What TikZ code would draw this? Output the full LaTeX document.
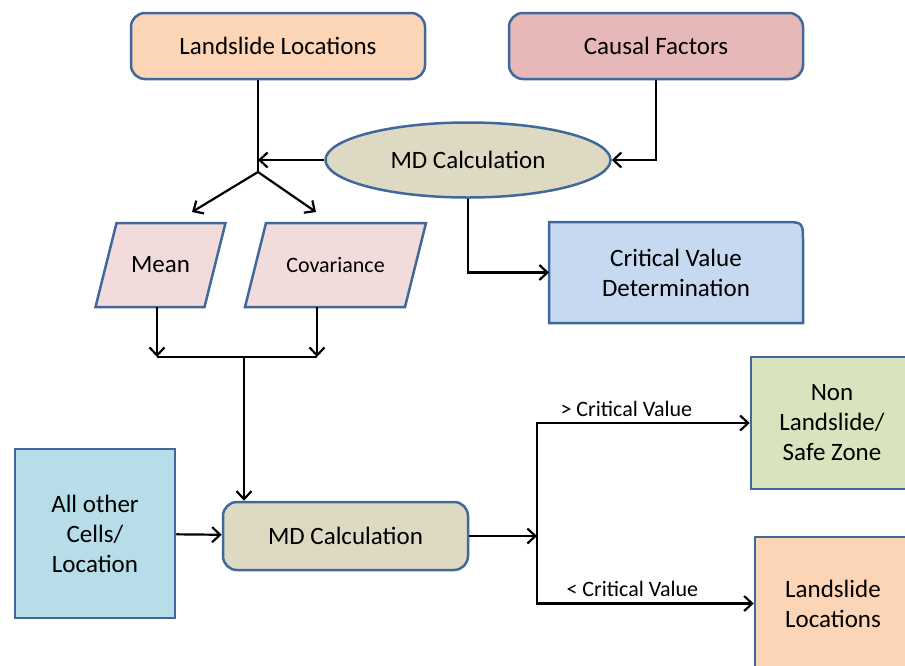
\documentclass[tikz,border=0pt]{standalone}
\usepackage{fontspec}
\setmainfont{Carlito}
\usetikzlibrary{arrows.meta,backgrounds,shapes.geometric}
\definecolor{edge}{HTML}{41689A}
\definecolor{peach}{HTML}{FBD5B5}
\definecolor{causal}{HTML}{E6B9B8}
\definecolor{tan}{HTML}{DDD9C3}
\definecolor{skyblue}{HTML}{C6D9F1}
\definecolor{pinkio}{HTML}{F2DCDB}
\definecolor{cellblue}{HTML}{B7DEE8}
\definecolor{safegreen}{HTML}{D7E4BD}

\begin{document}
\begin{tikzpicture}[->,>={Straight Barb[length=8pt,width=15pt]},x=1pt,y=-1pt,
		font=\fontsize{25}{30}\selectfont]
		\tikzstyle{box}=[draw=edge,line width=2.5pt,align=center,inner sep=0pt]
		\tikzstyle{rbox}=[box,rectangle,rounded corners=14pt]
		\tikzstyle{io}=[box,draw=none,outer sep=0pt,minimum height=84]
		\tikzstyle{lbl}=[font=\fontsize{22}{26}\selectfont,above=2pt]
		
		\useasboundingbox (0,0) rectangle (905,665);
		\clip (0,0) rectangle (905,665);
		
		\node[rbox,fill=peach,minimum width=294,minimum height=66] (ll) at (278,46) {Landslide Locations};
		\node[rbox,fill=causal,minimum width=294,minimum height=66] (cf) at (656,46) {Causal Factors};
		\node[box,ellipse,fill=tan,minimum width=285,minimum height=75] (md1) at (468,160) {MD Calculation};
		\node[box,draw=none,outer sep=0pt,minimum width=254,minimum height=101] (cv) at (676,272.5) {Critical Value\\Determination};
		\node[io,minimum width=109] (mean) at (160.5,265) {Mean};
		\node[io,minimum width=160,font=\fontsize{22}{26}\selectfont] (cov) at (335.5,265) {Covariance};
		\begin{pgfonlayer}{background}
			\filldraw[-,draw=edge,fill=skyblue,line width=2.5pt] (cv.south west) -- (cv.north west)
			-- ([xshift=-20pt]cv.north east) .. controls (cv.north east) .. ([yshift=-20pt]cv.north east)
			-- (cv.south east) -- cycle;
			% slanted input boxes
			\foreach \n in {mean,cov}
			\filldraw[-,draw=edge,fill=pinkio,line width=2.5pt] ([xshift=-10.5pt]\n.south west)
			-- ([xshift=10.5pt]\n.north west) -- ([xshift=10.5pt]\n.north east)
			-- ([xshift=-10.5pt]\n.south east) -- cycle;
		\end{pgfonlayer}
		\node[box,fill=cellblue,minimum width=160,minimum height=169] (cells) at (95,533.5) {All other\\Cells/\\Location};
		\node[rbox,fill=tan,minimum width=245,minimum height=68] (md2) at (345.5,536) {MD Calculation};
		\node[box,fill=safegreen,minimum width=162,minimum height=132] (safe) at (832,423) {Non\\Landslide/\\Safe Zone};
		\node[box,fill=peach,minimum width=156,minimum height=133] (lsb) at (833,603.5) {Landslide\\Locations};
		
		\coordinate (join) at (258,160);
		\coordinate (split) at (258,172);
		\coordinate (meanin) at (192,212);
		\coordinate (covin) at (316,212);
		\coordinate (mj) at (157,357);
		\coordinate (cj) at (317,357);
		\coordinate (mid) at (244,357);
		\coordinate (fork) at (537,536);
		
		\begin{scope}[line width=2.2pt]
		\draw[-] (ll.south -| split) -- (split);
		\draw (md1) -- (join);
		\draw (split) -- (meanin);
		\draw (split) -- (covin);
		\draw (cf.south) |- (md1.east);
		\draw (md1.south) |- (cv.west);
		\draw (mean.south -| mj) -- (mj);
		\draw (cov.south -| cj) -- (cj);
		\draw[-] (mj) -- (cj);
		\draw (mid) -- (mid |- md2.north);
		\draw (cells) -- (md2);
		\draw (md2) -- (fork);
		\draw (fork) |- node[lbl,pos=0.71] {> Critical Value} (safe.west);
		\draw (fork) |- node[lbl,pos=0.72] {< Critical Value} (lsb.west);
		\end{scope}
\end{tikzpicture}
\end{document}
